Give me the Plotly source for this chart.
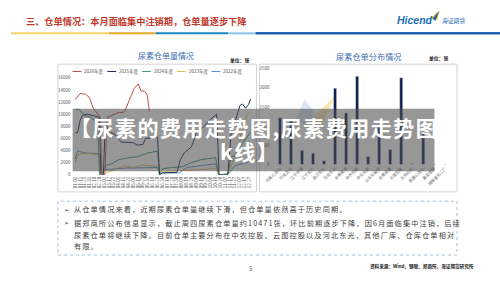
import pandas as pd
import plotly.graph_objects as go

W, H = 500, 281
def fx(x): return x / W
def fy(y): return 1 - y / H

FONT = "Noto Sans CJK SC, DejaVu Sans, sans-serif"

# ---------------- data: left chart (urea warehouse receipts by year) ----------------
years = ["2026年度", "2025年度", "2024年度", "2023年度", "2022年度"]
year_colors = ["#c0504d", "#1f2f5a", "#3a9a72", "#d9c24f", "#5b8ed6"]

# day-of-year offsets (from 01-01) and receipts (张)
days_2026 = [0, 10, 21, 29, 37, 45, 51, 55, 61, 66, 75, 90, 100, 105, 112, 122, 130, 136, 143, 148, 150, 153]
vals_2026 = [12400, 13400, 13300, 12800, 11000, 10300, 9600, 0, 0, 9500, 9800, 10300, 10300, 11000, 12400,
             14300, 15000, 13800, 13800, 13300, 12400, 10471]

days_2025 = [0, 5, 10, 15, 25, 35, 42, 50, 53, 58, 62, 70, 80, 95, 120, 128, 140, 145, 170, 174, 180, 210,
             217, 225, 240, 250, 265, 280, 292, 297, 315, 322, 330, 340, 345, 352, 358, 362]
vals_2025 = [6900, 7000, 9000, 9800, 10000, 9800, 9700, 9500, 0, 0, 8500, 7000, 6800, 5400, 5300, 4900, 5000,
             6000, 6200, 0, 300, 400, 2500, 3600, 4600, 6900, 7900, 9200, 10000, 0, 0, 6900, 8700, 11400,
             11700, 11000, 11600, 12500]

days_2024 = [0, 8, 12, 20, 30, 40, 47, 50, 55, 62, 75, 90, 110, 130, 150, 170, 174, 180, 200, 220, 240, 260,
             290, 296, 300, 315, 322, 335, 345, 355, 362]
vals_2024 = [10800, 10800, 10400, 9800, 9500, 9000, 7000, 0, 0, 1500, 1800, 2500, 2800, 3000, 3600, 3900, 0,
             1000, 1200, 1300, 2000, 2500, 2800, 0, 0, 200, 3000, 3200, 5200, 6200, 7000]

days_2023 = [0, 5, 15, 30, 45, 50, 53, 60, 80, 100, 120, 140, 170, 174, 180, 220, 260, 290, 296, 315, 322,
             340, 345, 354, 358]
vals_2023 = [2000, 3300, 3500, 3500, 3300, 3200, 0, 200, 800, 1500, 1200, 1600, 1400, 0, 500, 700, 900, 1000,
             0, 0, 1400, 5700, 7900, 9800, 10300]

days_2022 = [0, 5, 10, 20, 45, 50, 53, 60, 100, 140, 170, 174, 180, 215, 230, 260, 290, 296, 315, 330, 362]
vals_2022 = [2600, 4000, 3800, 3600, 3500, 3400, 0, 800, 1100, 1200, 1200, 0, 300, 300, 1200, 1500, 1800, 0,
             0, 1500, 2200]

# ---------------- data: right chart (distribution by warehouse) ----------------
warehouses = ["河南心连心", "河北正元", "辽宁华锦", "辽宁北方", "浙江巨化", "河北东光", "安徽昊源",
              "中农控股", "中化化肥", "云天化股份", "安徽泉盛", "云图控股", "东明石化", "新疆心连心",
              "嘉友国际", "湖南宜化二厂"]
stock = [1220, 1180, 370, 290, 100, 1990, 1340, 2300, 210, 1000, 390, 2260, 25, 800, 6, 6]

base = pd.Timestamp("2026-01-01")
def to_dates(days):
    return [base + pd.Timedelta(days=d) for d in days]

series = [(days_2026, vals_2026), (days_2025, vals_2025), (days_2024, vals_2024),
          (days_2023, vals_2023), (days_2022, vals_2022)]

fig = go.Figure()
# draw older years first so 2026 sits on top
for i in reversed(range(len(years))):
    d, v = series[i]
    fig.add_trace(go.Scatter(x=to_dates(d), y=v, mode="lines", name=years[i],
                             line=dict(color=year_colors[i], width=1),
                             xaxis="x", yaxis="y", showlegend=False, hoverinfo="skip"))

fig.add_trace(go.Bar(x=warehouses, y=stock, marker_color="#0e1f4f", width=0.28,
                     xaxis="x2", yaxis="y2", showlegend=False, hoverinfo="skip"))

tickfont = dict(family=FONT, size=4.5, color="#555555")

fig.update_layout(
    width=W, height=H, margin=dict(l=0, r=0, t=0, b=0),
    paper_bgcolor="white", plot_bgcolor="rgba(0,0,0,0)",
    xaxis=dict(domain=[fx(63), fx(248)], anchor="y", type="date",
               range=["2025-12-26 13:00", "2027-01-04 05:00"],
               tick0="2026-01-01", dtick=864000000, tickformat="%m-%d", tickangle=-90,
               tickfont=tickfont, showgrid=False, zeroline=False, showline=False, ticks=""),
    yaxis=dict(domain=[fy(175.5), fy(76.5)], anchor="x", range=[0, 16000], dtick=2000,
               tickformat="d", tickfont=tickfont, showgrid=False, zeroline=False,
               showline=False, ticks="", ticklabelstandoff=1),
    xaxis2=dict(domain=[fx(269.4), fx(449.7)], anchor="y2", range=[-0.5, 15.5],
                tickangle=-45, tickfont=dict(family=FONT, size=4, color="#666666"),
                showgrid=False, zeroline=False, showline=False, ticks=""),
    yaxis2=dict(domain=[fy(165), fy(67)], anchor="x2", range=[0, 2500], dtick=500,
                tickformat="d", tickfont=tickfont, showgrid=False, zeroline=False,
                showline=False, ticks="", ticklabelstandoff=4),
)

shapes = []
def rect(x0, y0, x1, y1, **kw):
    d = dict(type="rect", xref="paper", yref="paper", x0=fx(x0), x1=fx(x1), y0=fy(y1), y1=fy(y0))
    d.update(kw)
    shapes.append(d)
def hline(x0, x1, y, color, width):
    shapes.append(dict(type="line", xref="paper", yref="paper", x0=fx(x0), x1=fx(x1), y0=fy(y), y1=fy(y),
                       line=dict(color=color, width=width)))

# header colored rule
hline(0, 100, 31, "#f3d36a", 2)
hline(100, 148, 31, "#e3a92b", 2)
hline(148, 222, 31, "#1b86c3", 2)
hline(222, 250, 31, "#8cc3e6", 2)
hline(250, 500, 31, "#2062ad", 2.5)

# chart frames
rect(48, 62.5, 251, 193, line=dict(color="#c8c8c8", width=0.8))
rect(254, 62.5, 456, 193, line=dict(color="#c8c8c8", width=0.8))

# faint watermark in right chart
def path(pts, color, op):
    p = "M " + " L ".join(f"{fx(x):.4f},{fy(y):.4f}" for x, y in pts) + " Z"
    shapes.append(dict(type="path", xref="paper", yref="paper", path=p, fillcolor=color,
                       line=dict(width=0), opacity=op, layer="below"))
path([(290, 122), (300, 98), (322, 128)], "#cfe0f0", 0.8)
path([(298, 128), (332, 94), (318, 124)], "#f7e3a1", 0.8)

# logo arrow
path([(428, 16), (438, 8), (436, 17)], "#f2c12e", 1)
path([(431, 16), (438, 8), (434, 18)], "#1f64b4", 1)

# legend line segments (left chart)
for i, c in enumerate(year_colors):
    x0 = 63 + i * 35.5
    hline(x0, x0 + 9, 70, c, 1)

# text box dotted border
rect(48, 202.5, 456, 257.5, line=dict(color="#8fb3c9", width=0.8, dash="dot"))

# grey overlay band
rect(63, 108, 433, 172, fillcolor="rgba(75,75,75,0.58)", line=dict(width=0), layer="above")

fig.update_layout(shapes=shapes)

ann = []
def text(x, y, s, size, color="#333333", xanchor="left", bold=False, family=FONT):
    ann.append(dict(xref="paper", yref="paper", x=fx(x), y=fy(y), text=(f"<b>{s}</b>" if bold else s),
                    showarrow=False, xanchor=xanchor, yanchor="middle",
                    font=dict(family=family, size=size, color=color)))

text(13, 18, "三、仓单情况：本月面临集中注销期，仓单量逐步下降", 9.2, "#c0392b", bold=True)
text(393, 17, "<i>Hicend</i>", 10.5, "#1a6fba", bold=True, family="Liberation Sans, Arial, sans-serif")
text(439, 18, "海证期货", 5.8, "#1a6fba")

text(158, 54, "尿素仓单量情况", 8, "#3b6db3", xanchor="center")
text(222, 58, "单位：张", 4.8, "#111111", bold=True)
text(366, 54, "尿素仓单分布情况", 8.2, "#3b6db3", xanchor="center")
text(425, 56, "单位：张", 4.8, "#111111", bold=True)

for i, name in enumerate(years):
    text(63 + i * 35.5 + 10, 70, name, 4.5, "#555555")

band_ls = "letter-spacing:1.5px"
text(248, 127, f"<span style='{band_ls}'>【尿素的费用走势图,尿素费用走势图</span>", 21, "white",
     xanchor="center", bold=True)
text(244, 151, f"<span style='{band_ls}'>k线】</span>", 21, "white", xanchor="center", bold=True)

ls = "letter-spacing:1.1px"
lines = [
    (210.7, "从仓单情况来看，近期尿素仓单量继续下滑，但仓单量依然高于历史同期。", True),
    (224.3, "据郑商所公布信息显示，截止周四尿素仓单量约10471张，环比前期逐步下降，因6月面临集中注销，后续", True),
    (236.7, "尿素仓单将继续下降。目前仓单主要分布在中农控股、云图控股以及河北东光，其他厂库、仓库仓单相对", False),
    (248.3, "有限。", False),
]
for y, s, bullet in lines:
    if bullet:
        text(52, y, "➢", 6, "#333333", family="DejaVu Sans, sans-serif")
    text(62, y, f"<span style='{ls}'>{s}</span>", 7.2, "#404040")

text(245, 271, "5", 6, "#666666", xanchor="center")
text(365, 269, "资料来源：Wind、钢联、郑商所、海证期货研究所", 4.6, "#222222", bold=True)

fig.update_layout(annotations=ann)
fig.write_html("out.html")
